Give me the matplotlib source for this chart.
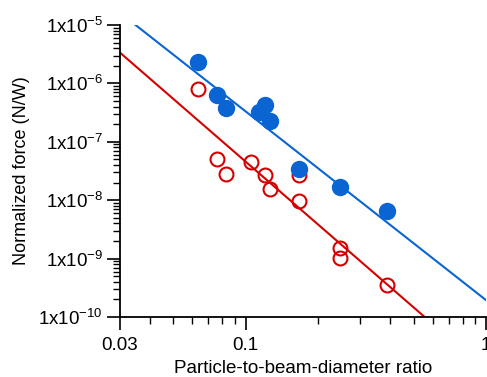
import numpy as np
import matplotlib
matplotlib.use('Agg')
import matplotlib.pyplot as plt
from matplotlib.ticker import LogLocator, FixedLocator, FixedFormatter, NullFormatter

plt.rcParams['font.family'] = ['Liberation Sans', 'DejaVu Sans']
plt.rcParams['mathtext.fontset'] = 'custom'
plt.rcParams['mathtext.rm'] = 'Liberation Sans'
plt.rcParams['mathtext.default'] = 'regular'

# filled (blue) data
blue_x = [0.0632, 0.0762, 0.0828, 0.1137, 0.1208, 0.126, 0.1664, 0.248, 0.388]
blue_y = [2.3e-6, 6.4e-7, 3.74e-7, 3.2e-7, 4.2e-7, 2.3e-7, 3.38e-8, 1.68e-8, 6.5e-9]

# open (red) data
red_x = [0.0632, 0.0758, 0.0828, 0.105, 0.1208, 0.126, 0.1664, 0.166, 0.248, 0.248, 0.388]
red_y = [8.0e-7, 5.1e-8, 2.77e-8, 4.5e-8, 2.7e-8, 1.53e-8, 2.7e-8, 9.6e-9, 1.5e-9, 1.02e-9, 3.6e-10]

# power-law fit lines: y = coef * x**expo
blue_coef, blue_expo = 1.95e-10, -3.23
red_coef, red_expo = 1.23e-11, -3.57

xticks = [0.03, 0.1, 1]
xtick_labels = ['0.03', '0.1', '1']
yticks = [1e-10, 1e-9, 1e-8, 1e-7, 1e-6, 1e-5]
ytick_labels = [r'1x10$^{-10}$', r'1x10$^{-9}$', r'1x10$^{-8}$', r'1x10$^{-7}$', r'1x10$^{-6}$', r'1x10$^{-5}$']

blue = '#0a64d2'
red = '#d40000'

fig = plt.figure(figsize=(4.87, 3.77), dpi=100)
ax = fig.add_axes([0.2464, 0.159, 0.7516, 0.7747])

xx = np.logspace(np.log10(0.03), 0, 200)
ax.plot(xx, blue_coef * xx ** blue_expo, color=blue, lw=1.5)
ax.plot(xx, red_coef * xx ** red_expo, color=red, lw=1.5)

ax.plot(red_x, red_y, 'o', ms=10, mfc='none', mec=red, mew=1.5, clip_on=False)
ax.plot(blue_x, blue_y, 'o', ms=11.5, color=blue, clip_on=False)

ax.set_xscale('log')
ax.set_yscale('log')
ax.set_xlim(0.03, 1)
ax.set_ylim(1e-10, 1e-5)

ax.xaxis.set_major_locator(FixedLocator(xticks))
ax.xaxis.set_major_formatter(FixedFormatter(xtick_labels))
ax.xaxis.set_minor_locator(LogLocator(base=10, subs=np.arange(2, 10)))
ax.xaxis.set_minor_formatter(NullFormatter())
ax.yaxis.set_major_locator(FixedLocator(yticks))
ax.yaxis.set_major_formatter(FixedFormatter(ytick_labels))
ax.yaxis.set_minor_locator(LogLocator(base=10, subs=np.arange(2, 10)))
ax.yaxis.set_minor_formatter(NullFormatter())

for s in ['top', 'right']:
    ax.spines[s].set_visible(False)
for s in ['left', 'bottom']:
    ax.spines[s].set_linewidth(1.3)

ax.tick_params(which='major', direction='out', length=9.4, width=1.2, labelsize=13.5)
ax.tick_params(axis='x', which='major', pad=5)
ax.tick_params(axis='y', which='major', pad=3)
ax.tick_params(which='minor', direction='out', length=5, width=1.0)

ax.set_xlabel('Particle-to-beam-diameter ratio', fontsize=13.5, labelpad=4)
ax.set_ylabel('Normalized force (N/W)', fontsize=13, labelpad=6)

fig.savefig('out.png', dpi=100)
